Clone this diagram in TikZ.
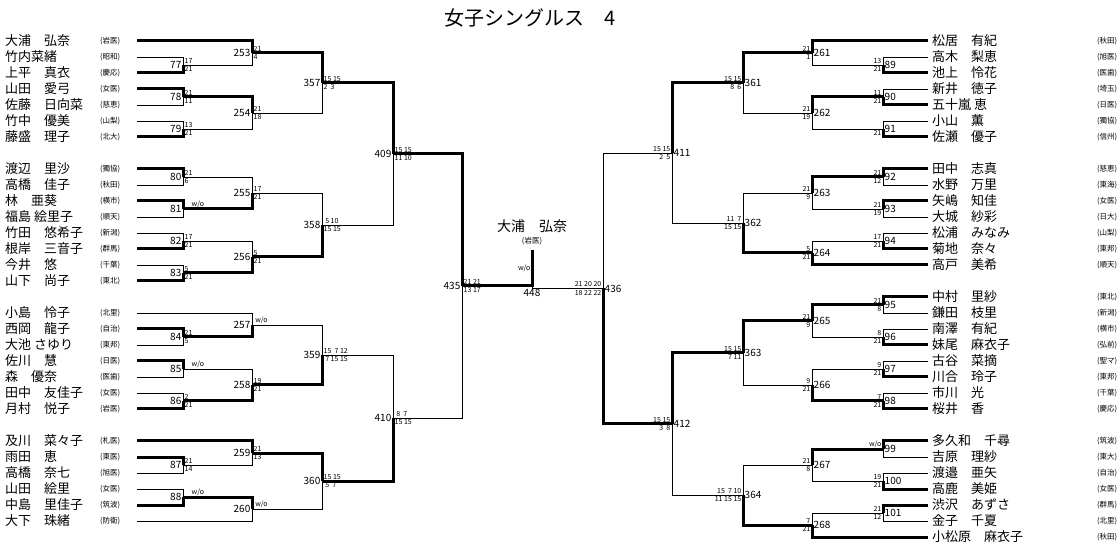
\documentclass[tikz,border=0pt]{standalone}
\usepackage{fontspec}
\setmainfont{Noto Sans CJK JP}
\usetikzlibrary{calc}
\tikzset{
  win/.style={line width=3pt},
  lose/.style={line width=.9pt},
  plname/.style={anchor=west,inner sep=0pt,font=\fontsize{13}{13}\selectfont},
  plaff/.style={anchor=west,inner sep=0pt,font=\fontsize{7.5}{8}\selectfont},
  num/.style={inner sep=1.5pt,font=\fontsize{10}{10}\selectfont},
  sc/.style={inner sep=1.5pt,font=\fontsize{7}{7}\selectfont},
}
% match: id, x, upper, upper style, lower, lower style, side, top score, bottom score
\newcommand\mtch[9]{%
  \path let \p1=(#3), \p2=(#5) in coordinate (m#1) at ({#2pt},{0.5*\y1+0.5*\y2});
  \draw[#4] (#3) -| (m#1);
  \draw[#6] (#5) -| (m#1);
  \if L#7
    \node[num,anchor=east] (n#1) at (m#1) {#1};
    \node[sc,anchor=south west] (t#1) at (m#1) {#8};
    \node[sc,anchor=north west] (b#1) at (m#1) {#9};
  \else
    \node[num,anchor=west] (n#1) at (m#1) {#1};
    \node[sc,anchor=south east] (t#1) at (m#1) {#8};
    \node[sc,anchor=north east] (b#1) at (m#1) {#9};
  \fi}
\begin{document}
\begin{tikzpicture}[x=1pt,y=-1pt]
\useasboundingbox (0,0) rectangle (1120,545);
\node[font=\fontsize{20}{20}\selectfont] (title) at (530,18) {女子シングルス　4};

% left players
\foreach \i/\nm/\af in {0/大浦　弘奈/岩医,1/竹内菜緒/昭和,2/上平　真衣/慶応,3/山田　愛弓/女医,
  4/佐藤　日向菜/慈恵,5/竹中　優美/山梨,6/藤盛　理子/北大,
  8/渡辺　里沙/獨協,9/高橋　佳子/秋田,10/林　亜葵/横市,11/福島 絵里子/順天,
  12/竹田　悠希子/新潟,13/根岸　三音子/群馬,14/今井　悠/千葉,15/山下　尚子/東北,
  17/小島　怜子/北里,18/西岡　龍子/自治,19/大池 さゆり/東邦,20/佐川　慧/日医,
  21/森　優奈/医歯,22/田中　友佳子/女医,23/月村　悦子/岩医,
  25/及川　菜々子/札医,26/雨田　恵/東医,27/高橋　奈七/旭医,28/山田　絵里/女医,
  29/中島　里佳子/筑波,30/大下　珠緒/防衛}{
  \coordinate (L\i) at (137,{41+16*\i});
  \node[plname] (nl\i) at (5,{41+16*\i}) {\nm};
  \node[plaff] (al\i) at (100,{41+16*\i}) {(\af)};
}
% right players
\foreach \i/\nm/\af in {0/松居　有紀/秋田,1/高木　梨恵/旭医,2/池上　怜花/医歯,3/新井　徳子/埼玉,
  4/五十嵐 恵/日医,5/小山　薫/獨協,6/佐瀬　優子/信州,
  8/田中　志真/慈恵,9/水野　万里/東海,10/矢嶋　知佳/女医,11/大城　紗彩/日大,
  12/松浦　みなみ/山梨,13/菊地　奈々/東邦,14/高戸　美希/順天,
  16/中村　里紗/東北,17/鎌田　枝里/新潟,18/南澤　有紀/横市,19/妹尾　麻衣子/弘前,
  20/古谷　菜摘/聖マ,21/川合　玲子/東邦,22/市川　光/千葉,23/桜井　香/慶応,
  25/多久和　千尋/筑波,26/吉原　理紗/東大,27/渡邉　亜矢/自治,28/高鹿　美姫/女医,
  29/渋沢　あずさ/群馬,30/金子　千夏/北里,31/小松原　麻衣子/秋田}{
  \coordinate (R\i) at (928,{41+16*\i});
  \node[plname] (nr\i) at (932,{41+16*\i}) {\nm};
  \node[plaff] (ar\i) at (1097,{41+16*\i}) {(\af)};
}

% left half
\mtch{77}{183}{L1}{lose}{L2}{win}{L}{17}{21}
\mtch{253}{252}{L0}{win}{m77}{lose}{L}{21}{4}
\mtch{78}{183}{L3}{win}{L4}{lose}{L}{21}{11}
\mtch{79}{183}{L5}{lose}{L6}{win}{L}{13}{21}
\mtch{254}{252}{m78}{win}{m79}{lose}{L}{21}{18}
\mtch{357}{322}{m253}{win}{m254}{lose}{L}{15 15}{2\ \ 3}
\mtch{80}{183}{L8}{win}{L9}{lose}{L}{21}{6}
\mtch{81}{183}{L10}{win}{L11}{lose}{L}{\quad w/o}{}
\mtch{255}{252}{m80}{lose}{m81}{win}{L}{17}{21}
\mtch{82}{183}{L12}{lose}{L13}{win}{L}{17}{21}
\mtch{83}{183}{L14}{lose}{L15}{win}{L}{5}{21}
\mtch{256}{252}{m82}{lose}{m83}{win}{L}{5}{21}
\mtch{358}{322}{m255}{lose}{m256}{win}{L}{\ 5 10}{15 15}
\mtch{409}{393}{m357}{win}{m358}{lose}{L}{15 15}{11 10}
\mtch{84}{183}{L18}{win}{L19}{lose}{L}{21}{5}
\mtch{257}{252}{L17}{lose}{m84}{win}{L}{\ w/o}{}
\mtch{85}{183}{L20}{win}{L21}{lose}{L}{\quad w/o}{}
\mtch{86}{183}{L22}{lose}{L23}{win}{L}{2}{21}
\mtch{258}{252}{m85}{lose}{m86}{win}{L}{19}{21}
\mtch{359}{322}{m257}{lose}{m258}{win}{L}{15\ \ 7 12}{\ 7 15 15}
\mtch{87}{183}{L26}{win}{L27}{lose}{L}{21}{14}
\mtch{259}{252}{L25}{win}{m87}{lose}{L}{21}{13}
\mtch{88}{183}{L28}{lose}{L29}{win}{L}{\quad w/o}{}
\mtch{260}{252}{m88}{win}{L30}{lose}{L}{\ w/o}{}
\mtch{360}{322}{m259}{win}{m260}{lose}{L}{15 15}{\ 5\ \ 7}
\mtch{410}{393}{m359}{lose}{m360}{win}{L}{\ 8\ \ 7}{15 15}
\mtch{435}{462}{m409}{win}{m410}{lose}{L}{21 21}{13 17}

% right half
\mtch{89}{883}{R1}{lose}{R2}{win}{R}{13}{21}
\mtch{261}{812}{R0}{win}{m89}{lose}{R}{21}{1}
\mtch{90}{883}{R3}{lose}{R4}{win}{R}{11}{21}
\mtch{91}{883}{R5}{lose}{R6}{win}{R}{}{21}
\mtch{262}{812}{m90}{win}{m91}{lose}{R}{21}{19}
\mtch{361}{743}{m261}{win}{m262}{lose}{R}{15 15}{8\ \ 6\ }
\mtch{92}{883}{R8}{win}{R9}{lose}{R}{21}{12}
\mtch{93}{883}{R10}{win}{R11}{lose}{R}{21}{19}
\mtch{263}{812}{m92}{win}{m93}{lose}{R}{21}{9}
\mtch{94}{883}{R12}{lose}{R13}{win}{R}{17}{21}
\mtch{264}{812}{m94}{lose}{R14}{win}{R}{5}{21}
\mtch{362}{743}{m263}{lose}{m264}{win}{R}{11\ \ 7\ }{15 15}
\mtch{411}{672}{m361}{win}{m362}{lose}{R}{15 15}{2\ \ 5\ }
\mtch{95}{883}{R16}{win}{R17}{lose}{R}{21}{8}
\mtch{96}{883}{R18}{lose}{R19}{win}{R}{8}{21}
\mtch{265}{812}{m95}{win}{m96}{lose}{R}{21}{9}
\mtch{97}{883}{R20}{lose}{R21}{win}{R}{9}{21}
\mtch{98}{883}{R22}{lose}{R23}{win}{R}{7}{21}
\mtch{266}{812}{m97}{lose}{m98}{win}{R}{9}{21}
\mtch{363}{743}{m265}{win}{m266}{lose}{R}{15 15}{7 11}
\mtch{99}{883}{R25}{win}{R26}{lose}{R}{w/o}{}
\mtch{100}{883}{R27}{lose}{R28}{win}{R}{19}{21}
\mtch{267}{812}{m99}{win}{m100}{lose}{R}{21}{8}
\mtch{101}{883}{R29}{win}{R30}{lose}{R}{21}{12}
\mtch{268}{812}{m101}{lose}{R31}{win}{R}{7}{21}
\mtch{364}{743}{m267}{lose}{m268}{win}{R}{15\ \ 7 10}{11 15 15}
\mtch{412}{672}{m363}{win}{m364}{lose}{R}{15 15}{3\ \ 8\ }
\mtch{436}{603}{m411}{lose}{m412}{win}{R}{21 20 20}{18 22 22}

% final
\path let \p1=(m435), \p2=(m436) in coordinate (m448) at (532pt,{0.5*\y1+0.5*\y2});
\coordinate (champ) at (532,250);
\draw[win] (m435) -| (m448);
\draw[lose] (m436) -| (m448);
\draw[win] (m448) -- (champ);
\node[num,anchor=north] (n448) at (m448) {448};
\node[sc,anchor=east] (wo448) at ([yshift=-18pt]champ) {w/o};
\node[font=\fontsize{14}{14}\selectfont] (chname) at (532,226) {大浦　弘奈};
\node[plaff,anchor=center] (chaff) at (532,241) {(岩医)};
\end{tikzpicture}
\end{document}
